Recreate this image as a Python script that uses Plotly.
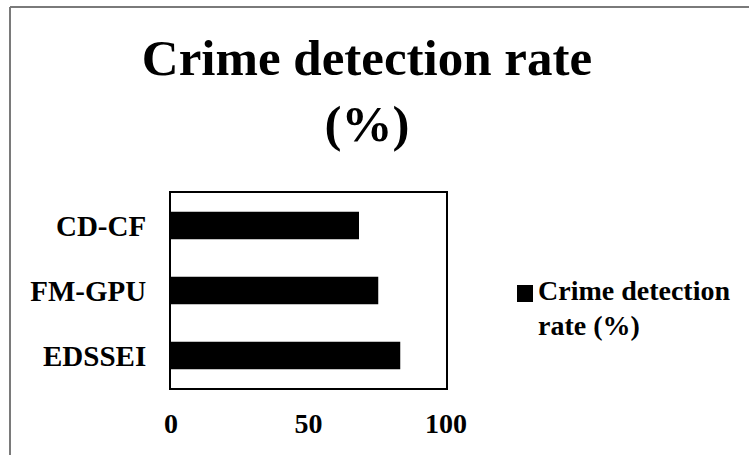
import plotly.graph_objects as go

# Data
methods = ["EDSSEI", "FM-GPU", "CD-CF"]
detection_rate = [83, 75, 68]
series_lines = ["Crime detection", "rate (%)"]
series_name = "<br>".join(series_lines)
x_ticks = [0, 50, 100]

W, H = 749, 455
ML, MR, MT, MB = 171, 303, 193, 67
PW, PH = W - ML - MR, H - MT - MB


def px_x(px):
    return (px - ML) / PW


def px_y(py):
    return (H - MB - py) / PH


FONT = "Liberation Serif, Times New Roman, serif"

fig = go.Figure(
    go.Bar(
        x=detection_rate,
        y=methods,
        orientation="h",
        name=series_name,
        marker=dict(color="black", line=dict(color="black", width=2)),
        showlegend=False,
    )
)

fig.update_layout(
    width=W,
    height=H,
    margin=dict(l=ML, r=MR, t=MT, b=MB, autoexpand=False),
    paper_bgcolor="white",
    plot_bgcolor="white",
    bargap=0.61,
    font=dict(family=FONT, color="black", size=28),
    title=dict(
        text="<b>Crime detection rate<br>(%)</b>",
        font=dict(family=FONT, size=51, color="black"),
        x=367 / W,
        xanchor="center",
        xref="container",
        y=0.835,
        yanchor="top",
        yref="container",
    ),
    xaxis=dict(
        range=[0, 100],
        tickvals=x_ticks,
        ticktext=[f"<b>{v}</b>" for v in x_ticks],
        showgrid=False,
        zeroline=False,
        showline=True,
        linecolor="black",
        linewidth=2,
        mirror=True,
        ticks="",
        ticklabelstandoff=9,
        tickfont=dict(size=28),
    ),
    yaxis=dict(
        categoryorder="array",
        categoryarray=methods,
        tickvals=methods,
        ticktext=[f"<b>{m}</b>" for m in methods],
        showgrid=False,
        zeroline=False,
        showline=True,
        linecolor="black",
        linewidth=2,
        mirror=True,
        ticks="",
        ticklabelstandoff=17,
        tickfont=dict(size=29),
    ),
)

# Legend key: swatch plus series label, one annotation per line
fig.add_shape(type="rect", xref="paper", yref="paper",
              x0=px_x(517), x1=px_x(533), y0=px_y(302), y1=px_y(285),
              fillcolor="black", line=dict(width=0))
for i, line in enumerate(series_lines):
    fig.add_annotation(xref="paper", yref="paper",
                       x=px_x(536), y=px_y(273 + 35 * i),
                       xanchor="left", yanchor="top",
                       align="left", showarrow=False,
                       text=f"<b>{line}</b>",
                       font=dict(family=FONT, size=28, color="black"))

# Outer frame lines along the top and left edges
fig.add_shape(type="line", xref="paper", yref="paper",
              x0=px_x(10), y0=px_y(7), x1=px_x(W + 5), y1=px_y(7),
              line=dict(color="#7a7a7a", width=2))
fig.add_shape(type="line", xref="paper", yref="paper",
              x0=px_x(10), y0=px_y(7), x1=px_x(10), y1=px_y(H + 5),
              line=dict(color="#7a7a7a", width=2))

fig.write_html("out.html")
